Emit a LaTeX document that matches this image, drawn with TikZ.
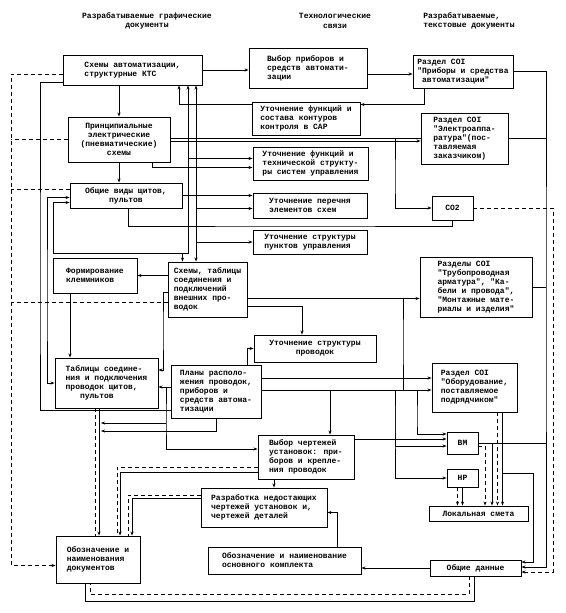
\documentclass[tikz,border=0pt]{standalone}
\usepackage{fontspec}
\newfontfamily\typefont{Liberation Mono}
\usetikzlibrary{arrows.meta}

\begin{document}
\begin{tikzpicture}[x=1pt, y=-1pt, line width=0.7pt, >={Stealth[length=4pt,width=3pt]},
    box/.style={draw, line width=0.9pt, inner sep=2pt, align=left, font=\typefont\bfseries\fontsize{8}{9}\selectfont},
    head/.style={align=center, font=\typefont\bfseries\fontsize{8}{9.5}\selectfont},
    dashline/.style={dash pattern=on 4pt off 3pt}]
    \useasboundingbox (0,0) rectangle (565,613);

    % Column headers
    \node[head] (hgraph) at (147,21) {Разрабатываемые графические\\документы};
    \node[head] (htech) at (335,21) {Технологические\\связи};
    \node[head, align=left] (htext) at (469,21) {Разрабатываемые,\\текстовые документы};

    % Graphic documents
    \node[box, minimum width=139pt, minimum height=30pt] (b1) at (132.5,70) {Схемы автоматизации,\\структурные КТС};
    \node[box, align=center, minimum width=102pt, minimum height=45pt] (b10) at (119,139.5) {Принципиальные\\электрические\\(пневматические)\\схемы};
    \node[box, align=center, minimum width=112pt, minimum height=25pt] (b11) at (126,195.5) {Общие виды щитов,\\пультов};
    \node[box, minimum width=84pt, minimum height=35pt] (b12) at (95,275.5) {Формирование\\клеммников};
    \node[box, minimum width=79pt, minimum height=55pt] (b13) at (207.5,289.5) {Схемы, таблицы\\соединения и\\подключений\\внешних про-\\водок};
    \node[box, minimum width=103pt, minimum height=50pt] (b18) at (106.5,383) {Таблицы соедине-\\ния и подключения\\проводок щитов,\\\ \ \ пультов};
    \node[box, minimum width=90pt, minimum height=53pt] (b16) at (216,391.5) {Планы располо-\\жения проводок,\\приборов и\\средств автома-\\тизации};
    \node[box, minimum width=126pt, minimum height=39pt] (b22) at (264,507.5) {Разработка недостающих\\чертежей установок и,\\чертежей деталей};
    \node[box, minimum width=84pt, minimum height=47pt] (b24) at (98,559.5) {Обозначение и\\наименования\\документов};
    \node[box, minimum width=153pt, minimum height=27pt] (b25) at (284.5,560.5) {Обозначение и наименование\\основного комплекта};

    % Technological links
    \node[box, minimum width=118pt, minimum height=40pt] (b2) at (308,68) {Выбор приборов и\\средств автомати-\\зации};
    \node[box, minimum width=108pt, minimum height=33pt] (b4) at (306,118.5) {Уточнение функций и\\состава контуров\\контроля в САР};
    \node[box, minimum width=115pt, minimum height=33pt] (b6) at (310.5,163.5) {Уточнение функций и\\технической структу-\\ры систем управления};
    \node[box, minimum width=114pt, minimum height=25pt] (b7) at (310,205.5) {Уточнение перечня\\элементов схем};
    \node[box, minimum width=114pt, minimum height=24pt] (b9) at (310,242) {Уточнение структуры\\пунктов управления};
    \node[box, align=center, minimum width=122pt, minimum height=27pt] (b15) at (315,348.5) {Уточнение структуры\\проводок};
    \node[box, minimum width=96pt, minimum height=44pt] (b19) at (306,457) {Выбор чертежей\\установок: при-\\боров и крепле-\\ния проводок};

    % Text documents
    \node[box, minimum width=100pt, minimum height=33pt] (b3) at (463,71.5) {Раздел СОI\\"Приборы и средства\\\ автоматизации"};
    \node[box, minimum width=87pt, minimum height=51pt] (b5) at (464.5,138.5) {Раздел СОI\\"Электроаппа-\\ратура"(пос-\\тавляемая\\заказчиком)};
    \node[box, align=center, minimum width=41pt, minimum height=24pt] (b8) at (452.5,208) {СО2};
    \node[box, minimum width=112pt, minimum height=60pt] (b14) at (476,287) {Разделы СОI\\"Трубопроводная\\арматура", "Ка-\\бели и провода",\\"Монтажные мате-\\риалы и изделия"};
    \node[box, minimum width=85pt, minimum height=49pt] (b17) at (474.5,387.5) {Раздел СОI\\"Оборудование,\\поставляемое\\подрядчиком"};
    \node[box, align=center, minimum width=31pt, minimum height=22pt] (b20) at (462.5,443) {ВМ};
    \node[box, align=center, minimum width=31pt, minimum height=18pt] (b21) at (462.5,478) {НР};
    \node[box, align=center, minimum width=99pt, minimum height=15pt] (b23) at (478.5,513.5) {Локальная смета};
    \node[box, align=center, minimum width=91pt, minimum height=16pt] (b26) at (475.5,568) {Общие данные};

    % Bus lines
    \coordinate (rb) at (546,0);
    \coordinate (ld) at (11,0);
    \coordinate (ba) at (179,0);
    \coordinate (bb) at (188,0);
    \coordinate (bc) at (196,0);
    \coordinate (k1) at (182.5,253);
    \coordinate (jv) at (166,423);
    \coordinate (jl1) at (101,431);
    \coordinate (jl2) at (101,423);

    % Top row and right bus
    \draw[->] (b1.east) -- (b1.east -| b2.west);
    \draw[->] ([yshift=-6pt]b2.east) -- ([yshift=-6pt]b2.east -| b3.west);
    \draw[->] (b3.east) -| (546,300) |- ([yshift=1pt]b26.east);
    \draw (b5.east) -- (b5.east -| rb);
    \draw (b14.east) -- (b14.east -| rb);
    \draw (b20.east) -- (b20.east -| rb);
    \draw[->, dashline] (b8.east) -| (553,400) |- ([yshift=-4pt]b26.east);

    % Refinements back to the automation schemes
    \draw[->] ([xshift=-39pt]b3.south) |- ([yshift=14pt]b4.east);
    \draw[->] ([yshift=14pt]b4.west) -| (ba |- b1.south);
    \draw[->] ([yshift=5pt]b6.west -| bb) -- ([yshift=5pt]b6.west);
    \draw[<->] ([yshift=-7pt]b11.west) -| (53,253) -| (bb |- b1.south);
    \draw[->] (k1) -- (k1 |- b13.north);
    \draw[<->] (b13.north -| bc) -- (bc |- b1.south);
    \draw[->] (b9.west -| bc) -- (b9.west);
    \draw[->] ([yshift=-3pt]b7.west -| bc) -- ([yshift=-3pt]b7.west);

    % Principal schemes and panels
    \draw[->] (b10.north |- b1.south) -- (b10.north);
    \draw[->] (b10.south) -- (b10.south |- b11.north);
    \draw ([yshift=1.5pt]b10.east) -- ([yshift=1.5pt]b10.east -| b5.west);
    \draw[->] ([yshift=-1.5pt]b10.east) -- ([yshift=-1.5pt]b10.east -| b5.west);
    \draw[->] ([yshift=1.5pt]b10.east) -| (395,180) |- (b8.west);
    \draw[->] ([xshift=33pt]b10.south) |- ([yshift=-4pt]b6.west);
    \draw[->] (b11.east) -- (b11.east -| b7.west);
    \draw ([xshift=2pt]b11.south) |- (300,226) -| (b8.south);

    % Left buses
    \draw[->, dashline] ([yshift=-4pt]b1.west) -| (11,300) |- ([yshift=-6pt]b24.west);
    \draw[dashline] (b10.west) -- (b10.west -| ld);
    \draw[dashline] ([yshift=6pt]b11.west) -- ([yshift=6pt]b11.west -| ld);
    \draw[dashline] ([yshift=-13pt]b13.west) -- ([yshift=-13pt]b13.west -| ld);
    \draw ([yshift=-12pt]b1.west) -| (40,300) |- ([yshift=-19pt]b16.west);
    \draw[<->] ([yshift=-2pt]b11.west) -| (47,300) |- (b18.west);

    % External wiring
    \draw[->] (b12.east -| b13.west) -- (b12.east);
    \draw[->] ([xshift=-25pt]b12.south) -- ([xshift=-25pt]b12.south |- b18.north);
    \draw[->] ([yshift=-2.5pt]b13.west) -| (163,330) |- ([yshift=13pt]b18.east);
    \draw[->] ([yshift=-9pt]b13.east) -- ([yshift=-9pt]b13.east -| b14.west);
    \draw[->] ([yshift=-17pt]b13.east) -| ([xshift=-13pt]b15.north);
    \draw[->] ([yshift=-9pt]b13.east) -| (403,340) |- ([yshift=-2.5pt]b17.west);

    % Wiring plans
    \draw[->] ([xshift=31pt]b16.north) |- (b15.west);
    \draw[->] ([yshift=13.5pt]b16.east) -- ([yshift=13.5pt]b16.east -| b17.west);
    \draw[->] ([yshift=1.5pt]b16.east) -| ([xshift=24pt]b19.north);
    \draw[->] ([yshift=1.5pt]b16.east) -| (395,420) |- ([yshift=-3pt]b20.west);
    \draw[->] ([yshift=1.5pt]b16.east) -| (395,420) |- (b21.west);
    \draw[->] ([yshift=1.5pt]b16.east) -| (417,420) |- ([yshift=9pt]b20.west);
    \draw[->] ([yshift=4.5pt]b16.west) -- ([yshift=4.5pt]b16.west -| b18.east);
    \draw[->] ([yshift=4.5pt]b16.west) -| (166,420) |- ([yshift=8pt]b19.west);
    \draw[->] (jv) -- (jl2);
    \draw[->] (b16.south) |- (jl1);

    % Drawings and estimate
    \draw[->] ([yshift=18pt]b19.east) -- ([yshift=18pt]b19.east -| b20.west);
    \draw[->] ([xshift=-32pt]b19.south) -- ([xshift=-32pt]b19.south |- b22.north);
    \draw[->] (b20.east) -| ([xshift=13.5pt]b23.north);
    \draw[->, dashline] ([yshift=-3pt]b20.east) -| ([xshift=6.5pt]b23.north);
    \draw[->] (b21.south) -- (b21.south |- b23.north);
    \draw[->, dashline] ([xshift=-5pt]b21.south) -- ([xshift=-5pt]b21.south |- b23.north);
    \draw[->] ([xshift=28pt]b17.south) -- ([xshift=28pt]b17.south |- b23.north);
    \draw[->, dashline] ([xshift=23pt]b17.south) -- ([xshift=23pt]b17.south |- b23.north);
    \draw[->] ([xshift=28pt]b17.south) |- (533,473) |- ([yshift=6pt]b26.east);

    % Bottom row
    \draw[->] (b26.west) -- (b26.west -| b25.east);
    \draw[->] ([xshift=53pt]b25.north) |- ([yshift=-5pt]b22.east);
    \draw ([xshift=-1.5pt]b26.south) -- ++(0,25) -| ([xshift=-13pt]b24.south);
    \draw[dashline] ([xshift=-6.5pt]b26.south) -- ++(0,18) -| ([xshift=-8pt]b24.south);

    % Into document designations
    \draw[->] ([xshift=-7.5pt]b18.south) -- ([xshift=-7.5pt]b18.south |- b24.north);
    \draw[dashline] ([xshift=-11.5pt]b18.south) -- ([xshift=-11.5pt]b18.south |- b24.north);
    \draw[->] ([yshift=-15pt]b19.west) -| ([xshift=22pt]b24.north);
    \draw[dashline] ([yshift=-10pt]b19.west) -| ([xshift=19pt]b24.north);
    \draw[->] ([yshift=9.5pt]b22.west) -| ([xshift=34pt]b24.north);
    \draw[dashline] ([yshift=12.5pt]b22.west) -| ([xshift=30pt]b24.north);
\end{tikzpicture}
\end{document}
